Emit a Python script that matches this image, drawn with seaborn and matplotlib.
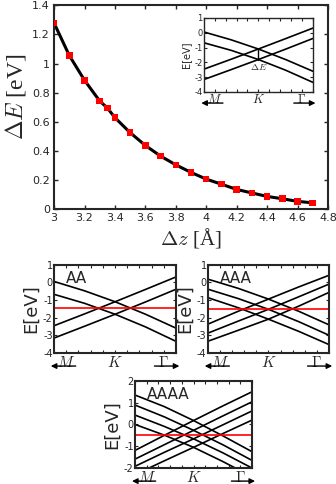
import numpy as np
import pandas as pd
import seaborn as sns
import matplotlib.pyplot as plt
from matplotlib.ticker import FuncFormatter

# gap vs interlayer distance
dz = [3.0, 3.1, 3.2, 3.3, 3.35, 3.4, 3.5, 3.6, 3.7, 3.8, 3.9, 4.0, 4.1, 4.2, 4.3, 4.4, 4.5, 4.6, 4.7]
dE = [1.278, 1.055, 0.885, 0.742, 0.695, 0.628, 0.525, 0.437, 0.364, 0.304, 0.252, 0.206,
      0.171, 0.135, 0.111, 0.087, 0.071, 0.053, 0.043]

# k-path samples M -> K -> Gamma
kpath = [0.0, 0.25, 0.5, 0.75, 1.0]
kticks = np.arange(0, 1.01, 0.1)

bands_AA = [
    [0.05, -0.48, -1.1, -1.81, -2.6],
    [-0.68, -1.19, -1.81, -2.53, -3.35],
    [-2.46, -1.79, -1.1, -0.4, 0.31],
    [-3.16, -2.49, -1.81, -1.11, -0.39],
]
ef_AA = -1.47
gap_lo, gap_hi = -1.81, -1.1

bands_AAA = [
    [0.18, -0.34, -0.95, -1.64, -2.41],
    [-0.39, -0.92, -1.53, -2.23, -3.0],
    [-0.87, -1.44, -2.09, -2.78, -3.53],
    [-2.37, -1.64, -0.95, -0.26, 0.40],
    [-2.88, -2.2, -1.53, -0.82, -0.1],
    [-3.34, -2.72, -2.09, -1.35, -0.57],
]
ef_AAA = -1.53

bands_AAAA = [
    [1.35, 0.82, 0.18, -0.52, -1.25],
    [0.89, 0.35, -0.27, -0.93, -1.65],
    [0.43, -0.09, -0.66, -1.3, -2.0],
    [0.0, -0.49, -1.05, -1.7, -2.4],
    [-1.19, -0.5, 0.18, 0.85, 1.5],
    [-1.59, -0.93, -0.27, 0.39, 1.04],
    [-1.92, -1.28, -0.66, -0.02, 0.62],
    [-2.3, -1.67, -1.05, -0.42, 0.2],
]
ef_AAAA = -0.48

main_xticks = [3.0, 3.2, 3.4, 3.6, 3.8, 4.0, 4.2, 4.4, 4.6, 4.8]
main_yticks = [0, 0.2, 0.4, 0.6, 0.8, 1.0, 1.2, 1.4]

sns.set_style("ticks")
plt.rcParams['font.family'] = ['DejaVu Sans']
plt.rcParams['mathtext.fontset'] = 'cm'
plt.rcParams['axes.unicode_minus'] = False
plt.rcParams['xtick.direction'] = 'in'
plt.rcParams['ytick.direction'] = 'in'
plt.rcParams['axes.linewidth'] = 1.5

fig = plt.figure(figsize=(3.36, 4.84), dpi=100)
gfmt = FuncFormatter(lambda v, p: '%g' % round(v, 3))


def band_frame(bands):
    rows = []
    for i, b in enumerate(bands):
        for k, e in zip(kpath, b):
            rows.append({'k': k, 'E': e, 'band': i})
    return pd.DataFrame(rows)


def band_panel(rect, bands, ylim, label_size, tick_size, sym_size, ylab_size, ef=None, tag=None):
    ax = fig.add_axes(rect)
    sns.lineplot(data=band_frame(bands), x='k', y='E', units='band', estimator=None,
                 color='black', lw=1.2, ax=ax)
    if ef is not None:
        ax.axhline(ef, color='red', lw=1.2)
    ax.set_xlim(0, 1)
    ax.set_ylim(*ylim)
    ax.set_yticks(range(ylim[0], ylim[1] + 1))
    ax.set_xticks(kticks)
    ax.set_xticklabels([])
    ax.tick_params(axis='both', top=True, right=True, length=2.5, width=0.8,
                   labelsize=tick_size, pad=1)
    ax.set_xlabel('')
    ax.set_ylabel('E[eV]', fontsize=ylab_size, labelpad=2)
    ax.text(0.1, -0.02, r'$M$', transform=ax.transAxes, ha='center', va='top', fontsize=sym_size)
    ax.text(0.5, -0.02, r'$K$', transform=ax.transAxes, ha='center', va='top', fontsize=sym_size)
    ax.text(0.9, -0.02, r'$\Gamma$', transform=ax.transAxes, ha='center', va='top', fontsize=sym_size)
    ay = -0.15
    ax.annotate('', xy=(-0.05, ay), xytext=(0.2, ay), xycoords='axes fraction',
                arrowprops=dict(arrowstyle='-|>', color='black', lw=1, mutation_scale=8), annotation_clip=False)
    ax.annotate('', xy=(1.05, ay), xytext=(0.8, ay), xycoords='axes fraction',
                arrowprops=dict(arrowstyle='-|>', color='black', lw=1, mutation_scale=8), annotation_clip=False)
    if tag:
        ax.text(0.1, 0.93, tag, transform=ax.transAxes, ha='left', va='top', fontsize=label_size)
    return ax


# main panel
ax = fig.add_axes([0.161, 0.568, 0.815, 0.421])
sns.lineplot(x=dz, y=dE, color='black', lw=2.2, ax=ax)
sns.scatterplot(x=dz, y=dE, color='red', marker='s', s=22, edgecolor='none', zorder=3, ax=ax)
ax.set_xlim(3, 4.8)
ax.set_ylim(0, 1.4)
ax.set_xticks(main_xticks)
ax.set_yticks(main_yticks)
ax.xaxis.set_major_formatter(gfmt)
ax.yaxis.set_major_formatter(gfmt)
ax.tick_params(axis='both', top=True, right=True, length=3, width=1, labelsize=8, pad=3)
ax.set_xlabel(r'$\Delta z$ [Å]', fontsize=15, labelpad=2, family='Liberation Serif')
ax.set_ylabel(r'$\Delta E$ [eV]', fontsize=17, family='Liberation Serif')
ax.yaxis.set_label_coords(-0.095, 0.55)

# inset
ins = band_panel([0.607, 0.810, 0.324, 0.153], bands_AA, (-4, 1), 7, 6, 9, 7)
ins.plot([0.5, 0.5], [gap_lo, gap_hi], color='black', lw=1)
ins.text(0.5, gap_lo - 0.15, r'$\Delta E$', ha='center', va='top', fontsize=7)
for sp in ins.spines.values():
    sp.set_linewidth(1)

band_panel([0.161, 0.271, 0.363, 0.182], bands_AA, (-4, 1), 11, 7, 11, 13, ef=ef_AA, tag='AA')
band_panel([0.619, 0.271, 0.360, 0.182], bands_AAA, (-4, 1), 11, 7, 11, 13, ef=ef_AAA, tag='AAA')
band_panel([0.402, 0.033, 0.348, 0.180], bands_AAAA, (-2, 2), 11, 7, 11, 13, ef=ef_AAAA, tag='AAAA')

fig.savefig('out.png', dpi=100)
